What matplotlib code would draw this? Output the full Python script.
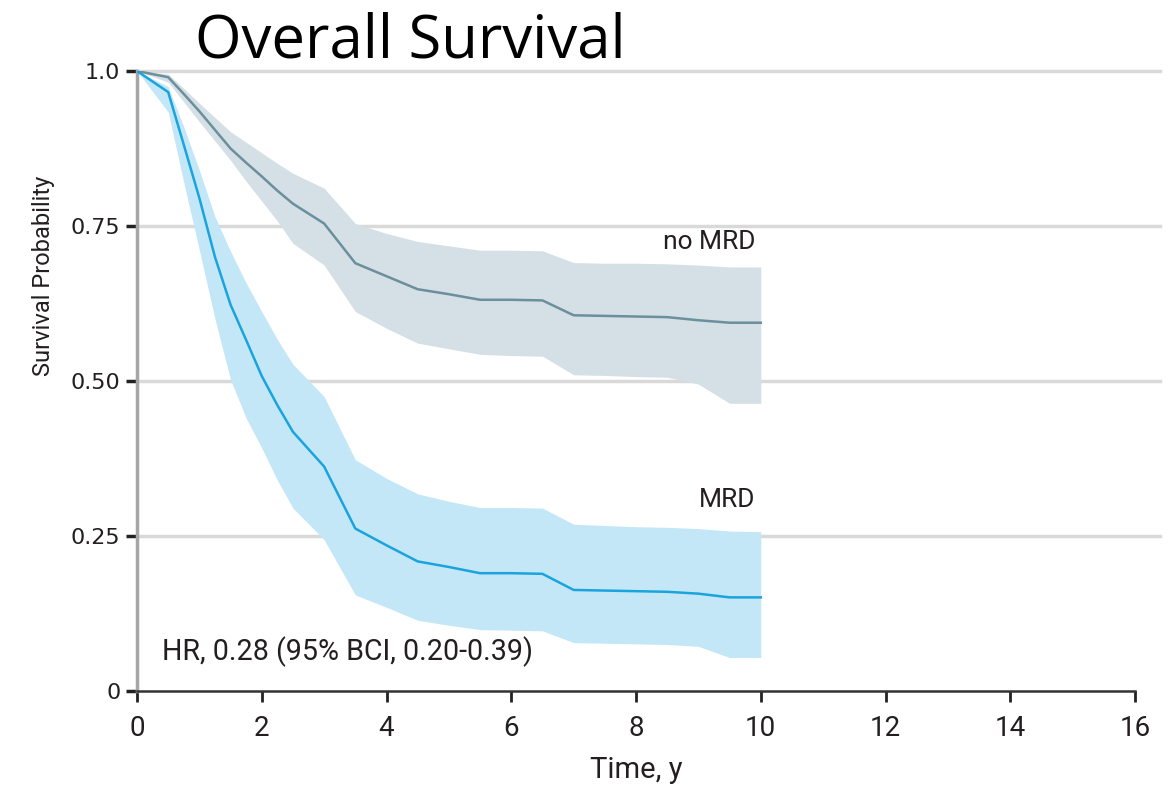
import matplotlib.pyplot as plt
import numpy as np

# Kaplan-Meier style estimates with 95% bands, read at half-year steps
t = [0, 0.5, 0.75, 1, 1.25, 1.5, 1.75, 2, 2.25, 2.5, 3, 3.5, 4, 4.5, 5,
     5.5, 6, 6.5, 7, 7.5, 8, 8.5, 9, 9.5, 10]

nomrd = [1.0, 0.99, 0.963, 0.935, 0.905, 0.875, 0.852, 0.83, 0.807, 0.786, 0.754, 0.690, 0.669,
         0.648, 0.640, 0.631, 0.631, 0.630, 0.606, 0.605, 0.604, 0.603, 0.598, 0.594, 0.594]
nomrd_hi = [1.0, 0.995, 0.972, 0.948, 0.925, 0.902, 0.885, 0.868, 0.851, 0.835, 0.811, 0.754, 0.738,
            0.725, 0.718, 0.711, 0.711, 0.710, 0.691, 0.690, 0.690, 0.689, 0.687, 0.684, 0.684]
nomrd_lo = [1.0, 0.982, 0.95, 0.918, 0.887, 0.856, 0.822, 0.79, 0.758, 0.722, 0.687, 0.612, 0.585,
            0.561, 0.552, 0.543, 0.541, 0.540, 0.510, 0.509, 0.507, 0.506, 0.495, 0.464, 0.464]

mrd = [1.0, 0.966, 0.881, 0.795, 0.700, 0.623, 0.566, 0.508, 0.461, 0.418, 0.362, 0.262, 0.235,
       0.209, 0.200, 0.190, 0.190, 0.189, 0.163, 0.162, 0.161, 0.160, 0.157, 0.151, 0.151]
mrd_hi = [1.0, 0.975, 0.91, 0.84, 0.765, 0.709, 0.658, 0.612, 0.567, 0.527, 0.475, 0.373, 0.343,
          0.318, 0.306, 0.296, 0.296, 0.295, 0.269, 0.267, 0.265, 0.264, 0.262, 0.258, 0.257]
mrd_lo = [1.0, 0.934, 0.82, 0.711, 0.60, 0.502, 0.44, 0.392, 0.34, 0.295, 0.244, 0.155, 0.135,
          0.114, 0.106, 0.099, 0.098, 0.097, 0.078, 0.077, 0.076, 0.075, 0.072, 0.054, 0.054]

xticks = [0, 2, 4, 6, 8, 10, 12, 14, 16]
yticks = [0, 0.25, 0.5, 0.75, 1.0]
ylabels = ['0', '0.25', '0.50', '0.75', '1.0']

narrow = ['Roboto', 'DejaVu Sans']
ink = '#231f20'

fig = plt.figure(figsize=(11.75, 7.87), dpi=100)
ax = fig.add_axes([137/1175, 96/787, (1160-137)/1175, (691-71)/787])

# grid lines first so the bands sit over them
for yv in yticks[1:]:
    ax.axhline(yv, color='#d9d9d9', lw=2.5, zorder=0, clip_on=False)

ax.fill_between(t, nomrd_lo, nomrd_hi, color='#d5e0e6', lw=0, zorder=1)
ax.fill_between(t, mrd_lo, mrd_hi, color='#c4e7f8', lw=0, zorder=1)
ax.plot(t, nomrd, color='#6b8f9c', lw=1.8, zorder=3)
ax.plot(t, mrd, color='#19a4de', lw=1.8, zorder=3)

ax.set_xlim(0, 16.4)
ax.set_ylim(0, 1.0)

ax.spines[['top', 'right']].set_visible(False)
ax.spines['bottom'].set_bounds(0, 16)
ax.spines['bottom'].set_color('#333333')
ax.spines['bottom'].set_linewidth(1.8)
ax.spines['left'].set_color('#a6a6a6')
ax.spines['left'].set_linewidth(2.5)

ax.set_xticks(xticks)
ax.set_xticklabels([str(v) for v in xticks], family=narrow, fontsize=20, color=ink)
ax.set_yticks(yticks)
ax.set_yticklabels(ylabels, family='DejaVu Sans', fontsize=16, color=ink)
ax.tick_params(axis='x', direction='out', length=8, width=2, color='#222222', pad=9)
ax.tick_params(axis='y', direction='out', length=8, width=2.5, color='#222222', pad=4)

ax.set_xlabel('Time, y', family=narrow, fontsize=21, color=ink, labelpad=10)
ax.xaxis.set_label_coords(0.488, -0.105)
ax.set_ylabel('Survival Probability', family=narrow, fontsize=17, color=ink)
ax.yaxis.set_label_coords(-0.080, 0.67)

ax.text(9.91, 0.724, 'no MRD', family=narrow, fontsize=19, color=ink,
        ha='right', va='center')
ax.text(9.91, 0.308, 'MRD', family=narrow, fontsize=19, color=ink,
        ha='right', va='center')
ax.text(0.4, 0.063, 'HR, 0.28 (95% BCI, 0.20-0.39)', family=narrow, fontsize=20.6,
        color=ink, ha='left', va='center')

fig.text(195/1175, 1 - 57/787, 'Overall Survival', family=['Open Sans', 'DejaVu Sans'],
         fontsize=43, color='black', ha='left', va='baseline')

fig.savefig('out.png', dpi=100)
